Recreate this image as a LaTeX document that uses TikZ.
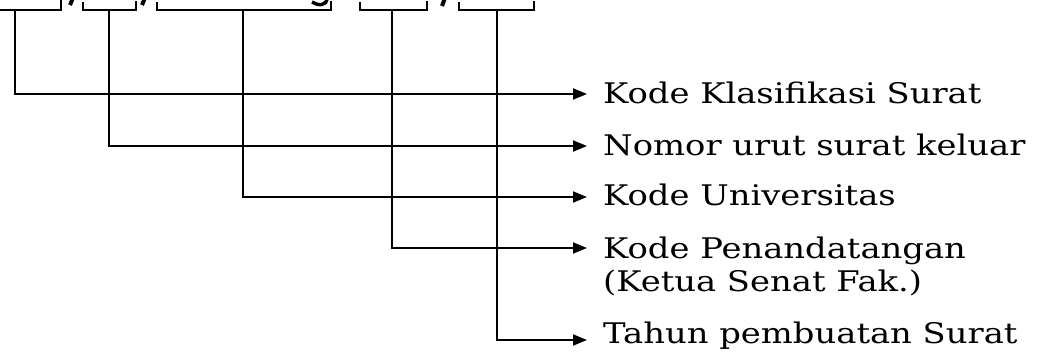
\documentclass[tikz,border=0pt]{standalone}
\usepackage{fontspec}
\setmainfont{DejaVu Serif}
\newfontfamily\lblfont[FakeStretch=1.19]{DejaVu Serif}
\usetikzlibrary{arrows.meta}
\tikzset{
  ln/.style={line width=1.9pt, line cap=rect},
  arr/.style={line width=1.9pt, -{Triangle[length=14pt,width=11pt]}},
  lbl/.style={font=\lblfont\fontsize{28.4}{33}\selectfont, inner sep=0pt, anchor=base west, align=left},
  frag/.style={line width=4pt, line cap=butt}
}
\begin{document}
\begin{tikzpicture}[x=1pt,y=-1pt]
\useasboundingbox (0,0) rectangle (1042,351);
% brackets (bottoms of boxes under the cropped heading)
\draw[ln] (-5,10) -- (61,10) -- (61,1);
\draw[ln] (83,3) -- (83,10) -- (136,10) -- (136,2);
\draw[ln] (157,3) -- (157,10) -- (331,10) -- (331,2);
\draw[ln] (360,3) -- (360,10) -- (427,10) -- (427,2);
\draw[ln] (459,3) -- (459,10) -- (534,10) -- (534,2);
% fragments of the cropped heading
\draw[frag] (73,-2) -- (70,5);
\draw[frag] (145,-2) -- (142,5);
\draw[frag] (445,-2) -- (442,6);
\draw[line width=3.5pt] (327,-2) .. controls (327,6) and (318,6) .. (312,2);
% stems
\coordinate (b1) at (15,10);
\coordinate (b2) at (109,10);
\coordinate (b3) at (243,10);
\coordinate (b4) at (392,10);
\coordinate (b5) at (497,10);
% arrow tips
\coordinate (e1) at (587,94);
\coordinate (e2) at (587,146);
\coordinate (e3) at (587,197);
\coordinate (e4) at (587,248);
\coordinate (e5) at (587,340);
% labels
\node[lbl] (t1) at (603,103) {Kode Klasifikasi Surat};
\node[lbl] (t2) at (603,155) {Nomor urut surat keluar};
\node[lbl] (t3) at (603,205) {Kode Universitas};
\node[lbl] (t4) at (603,291) {Kode Penandatangan\\(Ketua Senat Fak.)};
\node[lbl] (t5) at (603,343) {Tahun pembuatan Surat};
% connectors
\draw[arr] (b1) |- (e1);
\draw[arr] (b2) |- (e2);
\draw[arr] (b3) |- (e3);
\draw[arr] (b4) |- (e4);
\draw[arr] (b5) |- (e5);
\end{tikzpicture}
\end{document}
